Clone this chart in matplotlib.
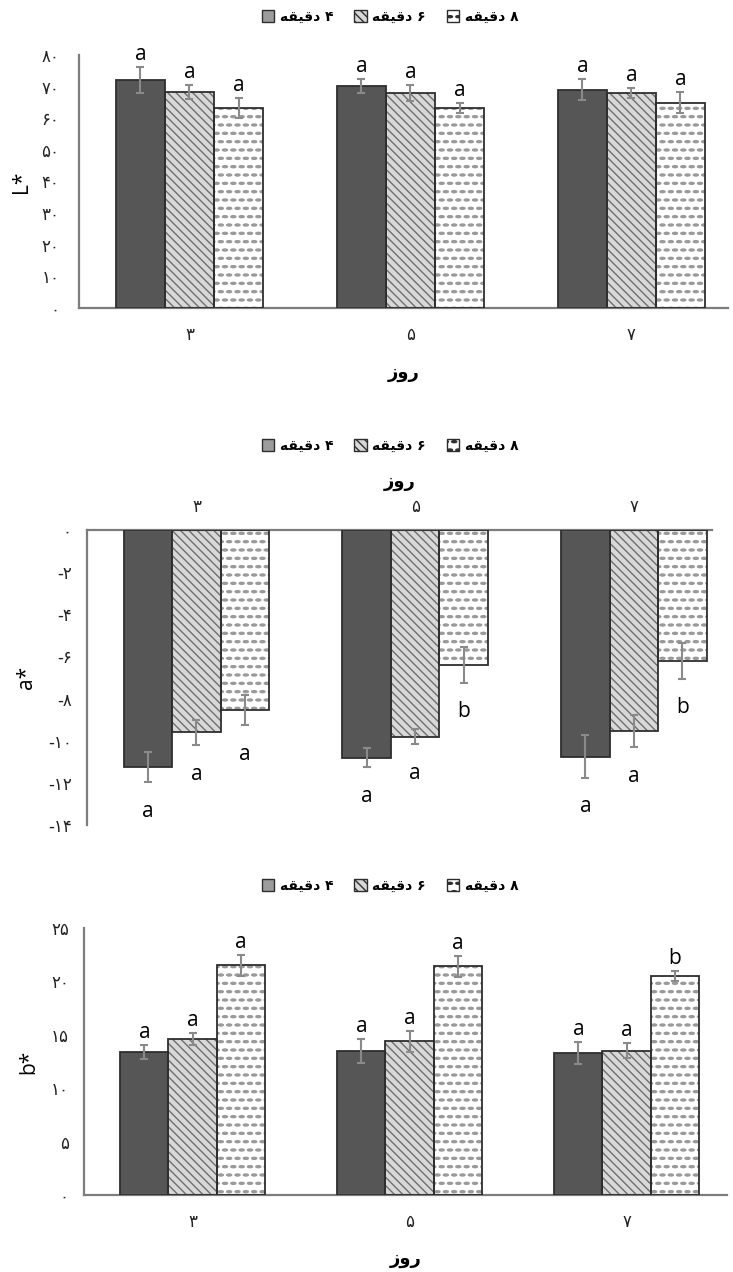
import numpy as np
import matplotlib
matplotlib.use('Agg')
import matplotlib.pyplot as plt
import matplotlib.hatch as mhatch
from matplotlib.patches import Patch
from matplotlib.ticker import FuncFormatter

plt.rcParams['font.family'] = ['DejaVu Sans']

days = ['3', '5', '7']
minutes = ['4', '6', '8']

# rows: 4, 6, 8 min ; columns: day 3, 5, 7
L_mean = [[72.1, 70.2, 69.0], [68.4, 68.0, 68.0], [63.3, 63.3, 64.9]]
L_err = [[4.0, 2.2, 3.3], [2.2, 2.5, 1.6], [3.2, 1.6, 3.3]]
L_sig = [['a', 'a', 'a'], ['a', 'a', 'a'], ['a', 'a', 'a']]

a_mean = [[-11.25, -10.8, -10.75], [-9.6, -9.8, -9.55], [-8.55, -6.4, -6.2]]
a_err = [[0.7, 0.45, 1.0], [0.6, 0.35, 0.75], [0.7, 0.85, 0.85]]
a_sig = [['a', 'a', 'a'], ['a', 'a', 'a'], ['a', 'b', 'b']]

b_mean = [[13.4, 13.5, 13.3], [14.6, 14.4, 13.5], [21.5, 21.4, 20.5]]
b_err = [[0.65, 1.1, 1.0], [0.55, 1.0, 0.7], [1.0, 0.95, 0.5]]
b_sig = [['a', 'a', 'a'], ['a', 'a', 'a'], ['a', 'a', 'b']]

word_min = 'دقیقه'
word_day = 'روز'


# short flat dashes instead of round dots for the '.' hatch
class DashHatch(mhatch.SmallFilledCircles):
    size = 0.3

    def __init__(self, hatch, density):
        super().__init__(hatch, density)
        self.shape_vertices = self.shape_vertices * [1.0, 0.4]


mhatch._hatch_types[mhatch._hatch_types.index(mhatch.SmallFilledCircles)] = DashHatch

# arabic presentation forms: isolated, final, initial, medial
FORMS = {
    'د': ('\uFEA9', '\uFEAA', None, None),
    'ر': ('\uFEAD', '\uFEAE', None, None),
    'ز': ('\uFEAF', '\uFEB0', None, None),
    'و': ('\uFEED', '\uFEEE', None, None),
    'ق': ('\uFED5', '\uFED6', '\uFED7', '\uFED8'),
    'ی': ('\uFBFC', '\uFBFD', '\uFEF3', '\uFEF4'),
    'ه': ('\uFEE9', '\uFEEA', '\uFEEB', '\uFEEC'),
}
FA_DIGITS = str.maketrans('0123456789-', '۰۱۲۳۴۵۶۷۸۹-')


def fa_num(s):
    return str(s).translate(FA_DIGITS)


def fa(text):
    # shape and reverse so the LTR renderer shows it right
    text = fa_num(text)
    out = []
    for i, ch in enumerate(text):
        if ch not in FORMS:
            out.append(ch)
            continue
        prev = text[i - 1] if i > 0 else ''
        nxt = text[i + 1] if i + 1 < len(text) else ''
        join_prev = prev in FORMS and FORMS[prev][2] is not None
        join_next = FORMS[ch][2] is not None and nxt in FORMS
        iso, fin, ini, med = FORMS[ch]
        if join_prev and join_next:
            out.append(med)
        elif join_prev:
            out.append(fin)
        elif join_next:
            out.append(ini)
        else:
            out.append(iso)
    return ''.join(reversed(out))


faces = ['#565656', '#d8d8d8', '#ffffff']
hatch_cols = ['#565656', '#6e6e6e', '#9a9a9a']
hatches = ['', '\\\\\\\\', '..']
edge = '#2e2e2e'
err_col = '#8a8a8a'
spine_col = '#7d7d7d'
bw = 0.222

W, H = 733, 1272
fig = plt.figure(figsize=(W / 100, H / 100), dpi=100)


def add_axes_px(left, top, right, bottom):
    return fig.add_axes([left / W, 1 - bottom / H, (right - left) / W, (bottom - top) / H])


def draw_bars(ax, means, errs, sigs, below=False):
    x = np.arange(len(days))
    for k in range(len(minutes)):
        xs = x + (k - 1) * bw
        ax.bar(xs, means[k], bw, color=faces[k], edgecolor=hatch_cols[k],
               hatch=hatches[k], linewidth=0, zorder=2)
        ax.bar(xs, means[k], bw, fill=False, edgecolor=edge, linewidth=1.3, zorder=3)
        ax.errorbar(xs, means[k], yerr=errs[k], fmt='none', ecolor=err_col,
                    elinewidth=1.5, capsize=3, capthick=1.5, zorder=4)
        for xi, m, e, s in zip(xs, means[k], errs[k], sigs[k]):
            if below:
                ax.annotate(s, (xi, m - e), xytext=(0, -25), textcoords='offset points',
                            ha='center', va='baseline', fontsize=15, family='Open Sans')
            else:
                ax.annotate(s, (xi, m + e), xytext=(0, 5), textcoords='offset points',
                            ha='center', va='baseline', fontsize=15, family='Open Sans')
    ax.set_xticks(x)
    ax.set_xticklabels([fa_num(d) for d in days])
    ax.yaxis.set_major_formatter(FuncFormatter(lambda v, p: fa_num(int(v))))
    ax.tick_params(length=0, labelsize=12, colors='#222222')
    for s in ax.spines.values():
        s.set_color(spine_col)
        s.set_linewidth(1.6)
    ax.spines['right'].set_visible(False)


def add_legend(cx, cy):
    handles = [Patch(facecolor=faces[k], edgecolor=edge, hatch=hatches[k], linewidth=1.0)
               for k in range(len(minutes))]
    handles[0].set_facecolor('#9c9c9c')
    labels = [fa(m + ' ' + word_min) for m in minutes]
    fig.legend(handles, labels, loc='center', bbox_to_anchor=(cx / W, 1 - cy / H),
               ncol=3, frameon=False, handlelength=0.9, handleheight=0.9,
               handletextpad=0.4, columnspacing=1.5,
               prop={'family': 'DejaVu Sans', 'weight': 'bold', 'size': 10})


# L*
ax1 = add_axes_px(79, 55, 728, 308)
draw_bars(ax1, L_mean, L_err, L_sig)
ax1.set_xlim(-0.5, 2.437)
ax1.set_ylim(0, 80)
ax1.set_yticks(np.arange(0, 81, 10))
ax1.spines['top'].set_visible(False)
ax1.tick_params(axis='y', pad=14)
ax1.tick_params(axis='x', pad=13)
ax1.set_ylabel('L*', family='Open Sans', fontsize=15)
ax1.yaxis.set_label_coords(-0.072, 0.5)
ax1.set_xlabel(fa(word_day), fontsize=13, weight='bold', labelpad=14)
add_legend(390, 17)

# a*
ax2 = add_axes_px(87, 530, 712, 825)
draw_bars(ax2, a_mean, a_err, a_sig, below=True)
ax2.set_xlim(-0.5, 2.357)
ax2.set_ylim(-14, 0)
ax2.set_yticks(np.arange(-14, 1, 2))
ax2.spines['bottom'].set_visible(False)
ax2.xaxis.tick_top()
ax2.xaxis.set_label_position('top')
ax2.tick_params(axis='y', pad=11)
ax2.tick_params(axis='x', pad=10)
ax2.set_ylabel('a*', family='Open Sans', fontsize=15)
ax2.yaxis.set_label_coords(-0.08, 0.5)
ax2.set_xlabel(fa(word_day), fontsize=13, weight='bold', labelpad=8)
add_legend(390, 446)

# b*
ax3 = add_axes_px(84, 928, 727, 1195)
draw_bars(ax3, b_mean, b_err, b_sig)
ax3.set_xlim(-0.5, 2.463)
ax3.set_ylim(0, 25)
ax3.set_yticks(np.arange(0, 26, 5))
ax3.spines['top'].set_visible(False)
ax3.tick_params(axis='y', pad=11)
ax3.tick_params(axis='x', pad=13)
ax3.set_ylabel('b*', family='Open Sans', fontsize=15)
ax3.yaxis.set_label_coords(-0.07, 0.5)
ax3.set_xlabel(fa(word_day), fontsize=13, weight='bold', labelpad=14)
add_legend(390, 886)

fig.savefig('out.png', dpi=100)
